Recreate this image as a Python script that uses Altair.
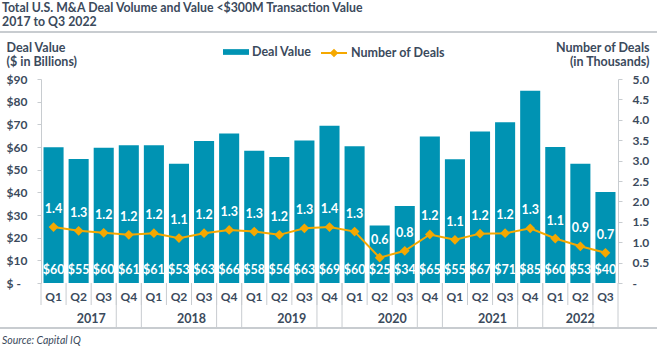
import altair as alt
import pandas as pd

# ---- data ----
years = ["2017"] * 4 + ["2018"] * 4 + ["2019"] * 4 + ["2020"] * 4 + ["2021"] * 4 + ["2022"] * 3
quarters = ["Q1", "Q2", "Q3", "Q4"] * 5 + ["Q1", "Q2", "Q3"]
deal_value = [59.9, 54.7, 59.7, 60.8, 60.8, 52.6, 62.6, 66.0, 58.3, 55.6, 62.9, 69.4,
              60.3, 25.4, 34.0, 64.6, 54.6, 66.8, 70.9, 84.8, 60.0, 52.6, 40.2]
num_deals = [1.37, 1.28, 1.23, 1.18, 1.22, 1.10, 1.22, 1.30, 1.26, 1.18, 1.34, 1.37,
             1.26, 0.62, 0.79, 1.19, 1.06, 1.21, 1.22, 1.34, 1.09, 0.90, 0.74]
left_ticks = [0, 10, 20, 30, 40, 50, 60, 70, 80, 90]
right_ticks = [0, 0.5, 1.0, 1.5, 2.0, 2.5, 3.0, 3.5, 4.0, 4.5, 5.0]
series_names = ["Deal Value", "Number of Deals"]

df = pd.DataFrame({
    "idx": list(range(len(years))),
    "year": years,
    "quarter": quarters,
    "value": deal_value,
    "deals": num_deals,
})

BLUE = "#0093b3"
ORANGE = "#f5a800"
TEXT = "#3b4a5c"
GRAY = "#c8ccd0"
FONT = "Lato"

W, H = 577, 204
xscale = alt.Scale(domain=[-0.5, len(years) - 0.5], nice=False, zero=False)
lscale = alt.Scale(domain=[0, 90], nice=False)
rscale = alt.Scale(domain=[0, 5], nice=False)

base = alt.Chart(df)

left_axis = alt.Axis(
    values=left_ticks, labelExpr="datum.value == 0 ? '$ -' : '$' + datum.value",
    grid=False, domainColor=GRAY, tickColor=GRAY, tickSize=4,
    labelAlign="left", labelPadding=31, labelFont=FONT, labelFontSize=12,
    labelFontWeight="bold", labelColor=TEXT,
    title=["Deal Value", "($ in Billions)"], titleAngle=0, titleAlign="left",
    titleBaseline="top", titleX=-35, titleY=-38, titleLineHeight=14,
    titleFont=FONT, titleFontSize=12.5, titleFontWeight="bold", titleColor=TEXT,
)
right_axis = alt.Axis(
    orient="right", values=right_ticks,
    labelExpr="datum.value == 0 ? '-' : format(datum.value, '.1f')",
    grid=False, domainColor=GRAY, tickColor=GRAY, tickSize=4,
    labelAlign="left", labelPadding=10, labelFont=FONT, labelFontSize=12,
    labelFontWeight="bold", labelColor=TEXT,
    title=["Number of Deals", "(in Thousands)"], titleAngle=0, titleAlign="right",
    titleBaseline="top", titleX=31, titleY=-38, titleLineHeight=14,
    titleFont=FONT, titleFontSize=12.5, titleFontWeight="bold", titleColor=TEXT,
)

bars = base.transform_calculate(
    x0="datum.idx - 0.4", x1="datum.idx + 0.4", series="'%s'" % series_names[0]
).mark_bar().encode(
    x=alt.X("x0:Q", scale=xscale, axis=None),
    x2="x1:Q",
    y=alt.Y("value:Q", scale=lscale, axis=left_axis),
    y2=alt.datum(0),
    color=alt.Color(
        "series:N",
        scale=alt.Scale(domain=[series_names[0]], range=[BLUE]),
        legend=alt.Legend(
            title=None, orient="none", legendX=182, legendY=-40, padding=0,
            symbolType="M-1,-0.22H1V0.22H-1Z", symbolSize=676, symbolStrokeWidth=0,
            labelOffset=3, labelFont=FONT, labelFontSize=12.5, labelFontWeight="bold",
            labelColor=TEXT,
        ),
    ),
)

line = base.transform_calculate(series="'%s'" % series_names[1]).mark_line(strokeWidth=2).encode(
    x=alt.X("idx:Q", scale=xscale, axis=None),
    y=alt.Y("deals:Q", scale=rscale, axis=right_axis),
    stroke=alt.Stroke(
        "series:N",
        scale=alt.Scale(domain=[series_names[1]], range=[ORANGE]),
        legend=alt.Legend(
            title=None, orient="none", legendX=279, legendY=-40, padding=0,
            symbolType="M-1,0H1M-0.22,0L0,-0.22L0.22,0L0,0.22Z", symbolSize=676,
            symbolStrokeWidth=2, symbolFillColor=ORANGE,
            labelOffset=3, labelFont=FONT, labelFontSize=12.5, labelFontWeight="bold",
            labelColor=TEXT,
        ),
    ),
)

points = base.mark_point(shape="diamond", filled=True, size=95, color=ORANGE, opacity=1).encode(
    x=alt.X("idx:Q", scale=xscale, axis=None),
    y=alt.Y("deals:Q", scale=rscale, axis=None),
)

count_labels = base.mark_text(
    dy=-18, color="white", font=FONT, fontSize=12.5, fontWeight="bold"
).encode(
    x=alt.X("idx:Q", scale=xscale, axis=None),
    y=alt.Y("deals:Q", scale=rscale, axis=None),
    text=alt.Text("deals:Q", format=".1f"),
)

value_labels = base.mark_text(
    color="white", font=FONT, fontSize=12.5, fontWeight="bold", baseline="middle"
).encode(
    x=alt.X("idx:Q", scale=xscale, axis=None),
    y=alt.value(H - 13),
    text=alt.Text("value:Q", format="$.0f"),
)

# category axis (two levels)
q_seps = base.transform_calculate(b="datum.idx - 0.5").mark_rule(color=GRAY, strokeWidth=1).encode(
    x=alt.X("b:Q", scale=xscale, axis=None), y=alt.value(H), y2=alt.value(H + 22)
)
y_start = base.transform_aggregate(m="min(idx)", groupby=["year"]).transform_calculate(
    b="datum.m - 0.5"
).mark_rule(color=GRAY, strokeWidth=1).encode(
    x=alt.X("b:Q", scale=xscale, axis=None), y=alt.value(H), y2=alt.value(H + 44)
)
y_end = base.transform_aggregate(m="max(idx)", groupby=["year"]).transform_calculate(
    b="datum.m + 0.5"
).mark_rule(color=GRAY, strokeWidth=1).encode(
    x=alt.X("b:Q", scale=xscale, axis=None), y=alt.value(H), y2=alt.value(H + 44)
)
q_labels = base.mark_text(
    color=TEXT, font=FONT, fontSize=12, fontWeight="bold", baseline="middle"
).encode(
    x=alt.X("idx:Q", scale=xscale, axis=None), y=alt.value(H + 14), text="quarter:N"
)
year_labels = base.transform_aggregate(mid="mean(idx)", groupby=["year"]).mark_text(
    color=TEXT, font=FONT, fontSize=12.5, fontWeight="bold", baseline="middle"
).encode(
    x=alt.X("mid:Q", scale=xscale, axis=None), y=alt.value(H + 36), text="year:N"
)

one = alt.Chart(pd.DataFrame({"k": [0]}))
title_text = one.mark_text(
    text="Total U.S. M&A Deal Volume and Value <$300M Transaction Value\n2017 to Q3 2022",
    lineBreak="\n", lineHeight=14, align="left", baseline="top",
    font=FONT, fontSize=12.3, fontWeight="bold", color=TEXT,
).encode(x=alt.value(-39), y=alt.value(-77))
top_line = one.mark_rule(color=GRAY, strokeWidth=2).encode(
    x=alt.value(-41), x2=alt.value(W + 39), y=alt.value(-47)
)
bottom_line = one.mark_rule(color=GRAY, strokeWidth=2).encode(
    x=alt.value(-41), x2=alt.value(W + 39), y=alt.value(H + 45)
)
source = one.mark_text(
    text="Source: Capital IQ", align="left", baseline="middle",
    font=FONT, fontSize=10.5, fontStyle="italic", color=TEXT,
).encode(x=alt.value(-39), y=alt.value(H + 58))

chart = alt.layer(
    bars, line, points, count_labels, value_labels,
    q_seps, y_start, y_end, q_labels, year_labels,
    title_text, top_line, bottom_line, source,
).resolve_scale(
    y="independent"
).properties(
    width=W, height=H,
    padding={"left": 41, "top": 79, "right": 39, "bottom": 63},
    autosize=alt.AutoSizeParams(type="none"),
).configure_view(stroke=None)

chart.save("out.html", embed_options={"renderer": "svg", "actions": False})
